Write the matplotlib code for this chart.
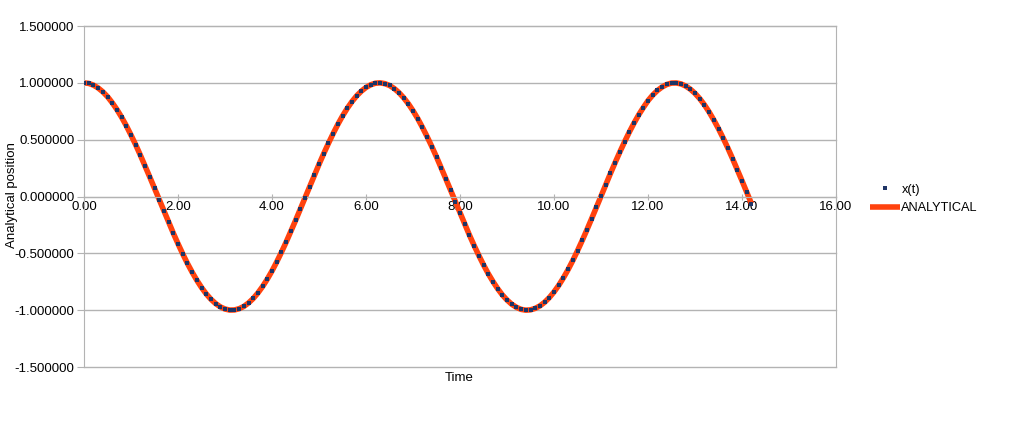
import matplotlib
matplotlib.use("Agg")
import matplotlib.pyplot as plt
from matplotlib.ticker import FormatStrFormatter

plt.rcParams['font.family'] = ['Liberation Sans', 'DejaVu Sans']

# time samples (step 0.1) and position values
time = [round(0.1 * k, 1) for k in range(143)]
position = [
    1.000, 0.995, 0.980, 0.955, 0.921, 0.878, 0.825, 0.765, 0.697, 0.622,
    0.540, 0.454, 0.362, 0.267, 0.170, 0.071, -0.029, -0.129, -0.227, -0.323,
    -0.416, -0.505, -0.589, -0.666, -0.737, -0.801, -0.857, -0.904, -0.942, -0.971,
    -0.990, -0.999, -0.998, -0.987, -0.967, -0.936, -0.897, -0.848, -0.791, -0.726,
    -0.654, -0.575, -0.490, -0.401, -0.307, -0.211, -0.112, -0.012, 0.087, 0.187,
    0.284, 0.378, 0.468, 0.554, 0.635, 0.709, 0.776, 0.835, 0.886, 0.927,
    0.960, 0.983, 0.997, 1.000, 0.993, 0.977, 0.950, 0.914, 0.869, 0.816,
    0.754, 0.685, 0.608, 0.526, 0.439, 0.347, 0.251, 0.153, 0.054, -0.046,
    -0.146, -0.244, -0.340, -0.432, -0.519, -0.602, -0.679, -0.748, -0.811, -0.866,
    -0.911, -0.948, -0.975, -0.993, -1.000, -0.997, -0.984, -0.962, -0.930, -0.889,
    -0.839, -0.781, -0.715, -0.642, -0.562, -0.476, -0.386, -0.292, -0.195, -0.096,
    0.004, 0.104, 0.203, 0.299, 0.392, 0.481, 0.566, 0.645, 0.718, 0.783,
    0.844, 0.893, 0.933, 0.964, 0.986, 0.998, 0.999, 0.991, 0.972, 0.944,
    0.907, 0.861, 0.806, 0.743, 0.672, 0.595, 0.512, 0.424, 0.331, 0.234,
    0.137, 0.037, -0.063,
]
analytical = list(position)

x_ticks = [0, 2, 4, 6, 8, 10, 12, 14, 16]
y_ticks = [-1.5, -1.0, -0.5, 0.0, 0.5, 1.0, 1.5]

fig = plt.figure(figsize=(10.35, 4.28), dpi=100)
ax = fig.add_axes([0.0812, 0.1425, 0.7266, 0.7967])

grid_col = '#b3b3b3'
for yv in y_ticks:
    ax.axhline(yv, color=grid_col, lw=1.0, zorder=0, clip_on=False)

ax.plot(time, analytical, color='#ff420e', lw=4.0, solid_capstyle='butt',
        label='ANALYTICAL', zorder=2)
ax.plot(time, position, ls='none', marker='s', ms=2.3, mew=0, color='#1f3566',
        label='x(t)', zorder=3)

ax.set_xlim(0, 16)
ax.set_ylim(-1.5, 1.5)
ax.set_xticks(x_ticks)
ax.set_yticks(y_ticks)
ax.xaxis.set_major_formatter(FormatStrFormatter('%.2f'))
ax.yaxis.set_major_formatter(FormatStrFormatter('%.6f'))

for side in ['top', 'right', 'left']:
    ax.spines[side].set_color(grid_col)
ax.spines['bottom'].set_position(('data', 0))
ax.spines['bottom'].set_color(grid_col)

ax.tick_params(axis='y', colors=grid_col, labelcolor='black', labelsize=9.5,
               length=5, direction='out', pad=2)
ax.tick_params(axis='x', colors=grid_col, labelcolor='black', labelsize=9.5,
               length=4, direction='inout', pad=1)

fig.text(0.012, 0.544, 'Analytical position', rotation=90, fontsize=9.5,
         ha='center', va='center')
fig.text(0.444, 0.117, 'Time', fontsize=9.5, ha='center', va='center')

handles, labels = ax.get_legend_handles_labels()
leg = fig.legend(handles[::-1], labels[::-1], loc='center left',
                 bbox_to_anchor=(0.829, 0.535), frameon=False, fontsize=9.2,
                 handlelength=2.4, handletextpad=0.1, labelspacing=0.5,
                 markerscale=1.2)

fig.savefig('out.png', dpi=100)
